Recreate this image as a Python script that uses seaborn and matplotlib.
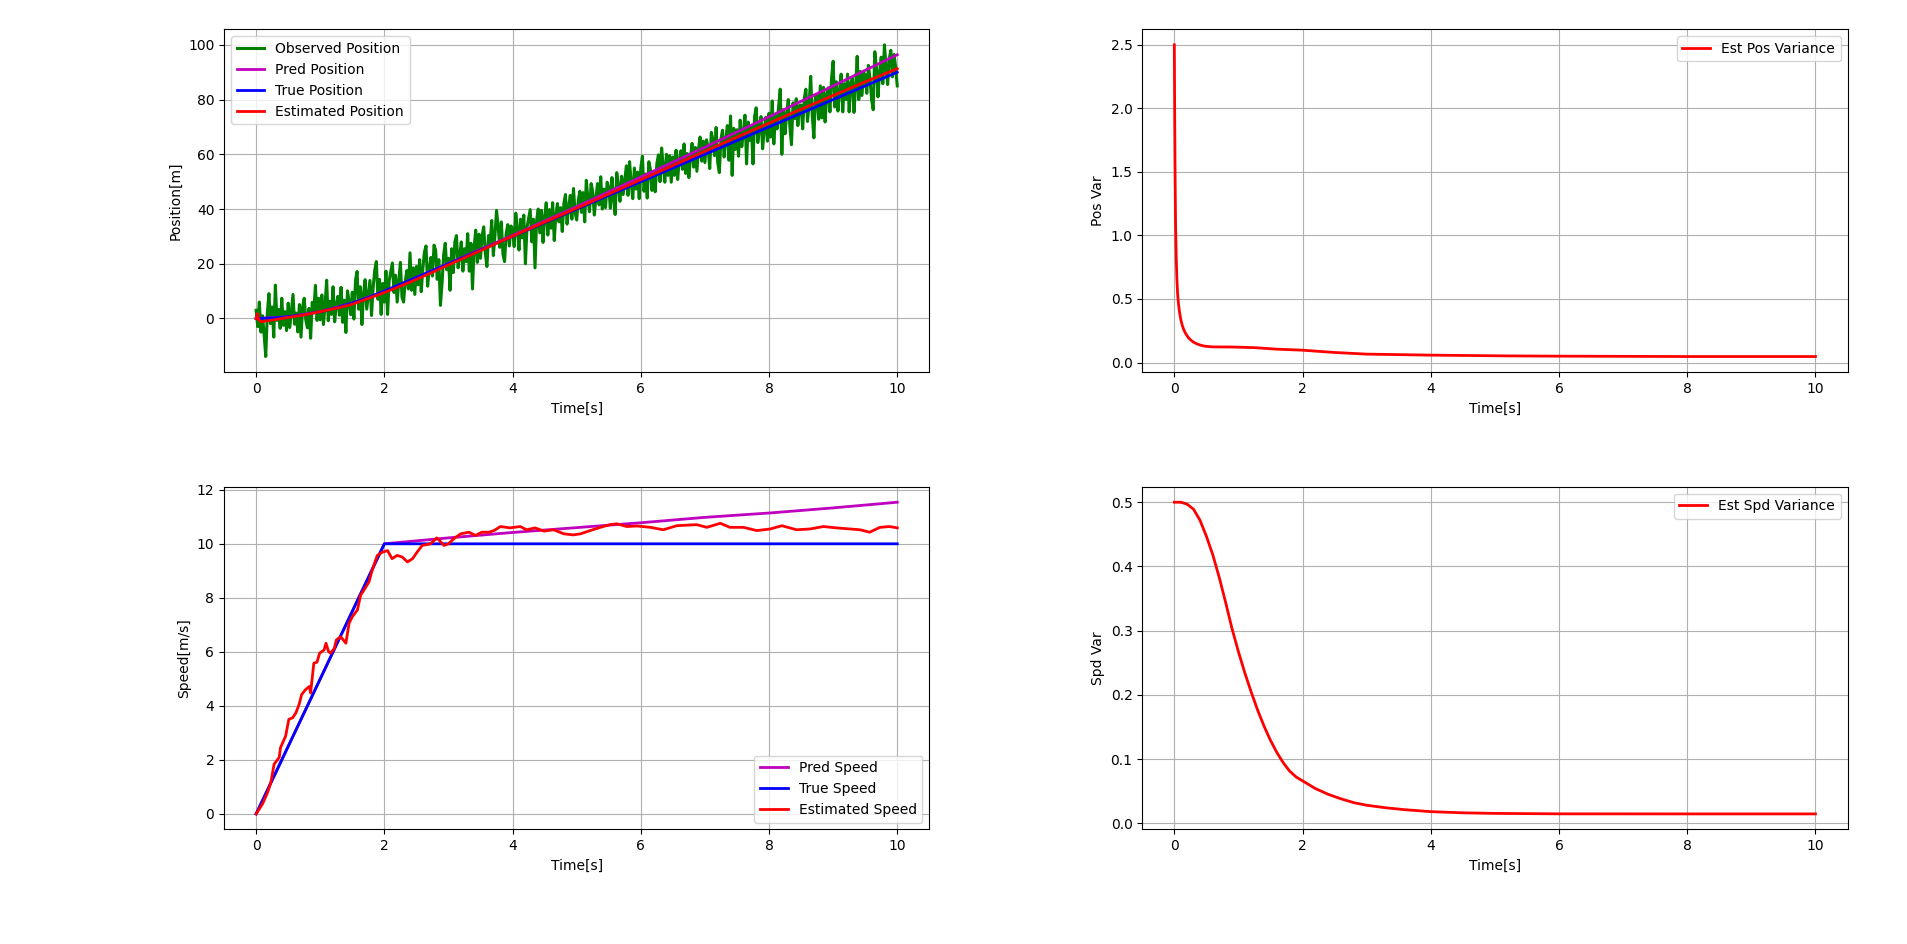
import numpy as np
import matplotlib
matplotlib.use("Agg")
import matplotlib.pyplot as plt
import seaborn as sns

# sample times of the noisy measurement (0.025 s step, 0..10 s)
t_obs = np.arange(401) * 0.025
obs_pos = [
    3.0, -3.0, 6.0, -5.0, 1.0, -6.0, -13.9, 2.1, 9.1, -1.9, 4.2, -6.8, 12.2, -0.7, 3.3, -3.6, 7.4, -2.5, 2.5, -4.4,
    5.6, -3.3, 2.8, 8.8, -2.1, 2.0, -4.9, 5.1, -6.8, 4.3, 7.4, -0.5, -3.4, 3.7, -7.2, 5.9, 3.0, 12.1, -0.7, 7.4,
    -0.5, 8.6, -2.2, 4.9, 14.0, -0.8, 6.3, 1.5, 11.6, -1.2, 4.9, 8.1, 1.2, 11.4, -1.4, 6.7, -5.1, 10.1, 6.3, 1.4,
    9.6, -0.2, 14.0, 17.2, 3.4, 11.6, -2.2, 9.0, 14.2, 3.4, 8.7, 13.9, 1.1, 11.3, 17.6, 20.8, 7.0, 14.3, 1.5, 12.8,
    6.0, 17.3, 1.5, 13.8, 17.0, 20.3, 9.5, 15.8, 6.0, 13.3, 20.5, 7.8, 6.0, 13.3, 17.5, 10.8, 24.0, 10.3, 18.5, 8.8,
    19.0, 12.3, 21.5, 9.8, 18.0, 24.3, 26.5, 11.8, 18.0, 22.3, 15.5, 26.8, 25.0, 14.3, 21.5, 4.8, 13.0, 23.3, 27.5, 17.8,
    22.0, 10.3, 25.5, 16.8, 28.0, 30.3, 18.5, 22.8, 28.0, 17.3, 25.5, 20.8, 31.0, 17.3, 27.5, 10.8, 26.0, 32.3, 20.5, 30.8,
    22.0, 30.3, 33.5, 23.8, 19.0, 30.3, 27.5, 35.8, 23.0, 30.3, 39.5, 33.8, 26.0, 35.3, 23.5, 20.8, 31.0, 34.3, 26.5, 33.8,
    33.0, 26.3, 38.5, 32.8, 25.0, 36.3, 29.5, 37.8, 20.0, 33.3, 36.5, 39.8, 28.0, 36.3, 18.5, 35.8, 40.0, 31.3, 39.5, 27.8,
    37.0, 42.3, 30.5, 39.8, 33.0, 42.3, 28.5, 37.8, 42.0, 35.3, 40.5, 31.8, 42.0, 45.3, 34.5, 40.8, 45.0, 36.3, 47.5, 38.8,
    36.0, 43.3, 46.5, 38.8, 46.0, 35.3, 50.5, 43.8, 39.0, 49.3, 46.5, 37.8, 44.0, 49.3, 41.5, 51.8, 40.0, 47.3, 40.5, 49.8,
    48.0, 40.3, 51.5, 43.8, 38.0, 53.3, 48.5, 42.8, 52.0, 45.3, 50.5, 55.8, 45.0, 57.3, 49.5, 43.8, 55.0, 47.3, 53.5, 43.8,
    55.0, 59.3, 46.5, 52.8, 44.0, 57.3, 54.5, 46.8, 53.0, 46.3, 56.5, 59.8, 50.0, 62.3, 55.5, 49.8, 60.0, 52.3, 59.5, 49.8,
    59.0, 52.3, 61.5, 50.8, 58.0, 61.3, 54.5, 63.8, 53.0, 60.3, 51.5, 58.8, 64.0, 55.3, 62.5, 53.8, 62.0, 66.3, 57.5, 64.8,
    57.0, 65.3, 62.5, 54.8, 68.0, 65.3, 59.5, 69.8, 57.0, 53.3, 65.5, 68.8, 59.0, 65.3, 70.5, 57.8, 74.0, 52.3, 69.5, 61.8,
    69.0, 59.3, 72.5, 62.8, 68.0, 74.3, 56.5, 71.8, 65.0, 70.3, 56.5, 73.8, 77.0, 64.3, 69.5, 73.8, 62.0, 69.3, 73.5, 64.8,
    75.0, 66.3, 79.5, 63.8, 74.0, 69.3, 77.5, 83.8, 60.0, 76.3, 67.5, 74.8, 80.0, 70.3, 63.5, 78.8, 73.0, 80.3, 70.5, 77.8,
    78.0, 69.3, 80.5, 83.8, 72.0, 78.3, 88.5, 73.8, 66.0, 81.3, 81.5, 72.8, 85.0, 73.3, 84.5, 71.8, 82.0, 84.3, 75.5, 87.8,
    94.0, 77.3, 86.5, 75.8, 83.0, 89.3, 75.5, 85.8, 80.0, 89.3, 75.5, 85.8, 88.0, 75.3, 84.5, 95.8, 80.0, 90.3, 81.5, 89.8,
    89.0, 82.3, 92.5, 87.8, 80.0, 76.3, 97.5, 91.8, 81.0, 90.3, 95.5, 85.8, 100.0, 92.3, 85.5, 94.8, 98.0, 88.3, 96.5, 91.8,
    85.0,
]

true_pos_t = [0, 0.25, 0.5, 0.75, 1.0, 1.25, 1.5, 1.75, 2.0, 10.0]
true_pos = [0, 0.16, 0.63, 1.41, 2.5, 3.91, 5.63, 7.66, 10.0, 90.0]

pred_pos_t = [0, 0.5, 1.0, 1.5, 2.0, 3.0, 4.0, 5.0, 6.0, 7.0, 8.0, 9.0, 10.0]
pred_pos = [0, 0.63, 2.5, 5.63, 10.0, 20.1, 30.4, 40.9, 51.7, 62.6, 73.7, 85.0, 96.4]

est_pos_t = [0, 0.02, 0.04, 0.08, 0.15, 0.25, 0.35, 0.5, 0.7, 0.9, 1.1, 1.3, 1.5, 1.7, 1.9,
             2.1, 2.3, 2.5, 2.75, 3.0, 3.5, 4.0, 4.5, 5.0, 5.5, 6.0, 6.5, 7.0, 7.5, 8.0,
             8.5, 9.0, 9.5, 10.0]
est_pos = [0.0, 1.8, -0.5, -1.2, -0.9, -0.6, -0.2, 0.4, 1.1, 2.0, 3.0, 4.0, 5.2, 6.9, 8.6,
           10.4, 12.3, 14.3, 16.9, 19.6, 24.8, 30.1, 35.2, 40.3, 45.5, 50.7, 55.9, 61.1, 66.3, 71.4,
           76.5, 81.5, 86.5, 91.3]

true_spd_t = [0, 2.0, 10.0]
true_spd = [0, 10.0, 10.0]

pred_spd_t = [0, 2.0, 3.0, 4.0, 5.0, 6.0, 7.0, 8.0, 9.0, 10.0]
pred_spd = [0, 10.0, 10.22, 10.42, 10.6, 10.78, 10.98, 11.14, 11.33, 11.54]

est_spd_t = [0, 0.1, 0.18, 0.23, 0.28, 0.36, 0.38, 0.46, 0.51, 0.57, 0.62, 0.67, 0.71, 0.77,
             0.83, 0.85, 0.9, 0.95, 0.99, 1.06, 1.09, 1.13, 1.16, 1.22, 1.25, 1.32, 1.4, 1.45,
             1.5, 1.58, 1.63, 1.68, 1.76, 1.81, 1.89, 1.97, 2.05, 2.12, 2.2, 2.28, 2.36, 2.44,
             2.51, 2.59, 2.72, 2.82, 2.93, 3.0, 3.08, 3.19, 3.32, 3.42, 3.52, 3.63, 3.71, 3.81,
             3.96, 4.12, 4.22, 4.35, 4.49, 4.64, 4.8, 4.95, 5.06, 5.21, 5.37, 5.52, 5.63, 5.78,
             5.94, 6.15, 6.35, 6.56, 6.87, 7.03, 7.24, 7.39, 7.6, 7.81, 8.02, 8.2, 8.43, 8.64,
             8.85, 9.05, 9.26, 9.42, 9.57, 9.73, 9.88, 10.0]
est_spd = [0, 0.37, 0.8, 1.17, 1.84, 2.09, 2.45, 2.88, 3.5, 3.56, 3.74, 4.05, 4.42, 4.6,
           4.72, 4.48, 5.58, 5.62, 5.95, 6.07, 6.32, 6.01, 5.95, 6.13, 6.44, 6.56, 6.32, 7.06,
           7.3, 7.55, 8.1, 8.28, 8.59, 9.02, 9.57, 9.69, 9.75, 9.45, 9.57, 9.51, 9.33, 9.45,
           9.69, 9.94, 10.0, 10.22, 9.94, 10.0, 10.18, 10.37, 10.43, 10.31, 10.43, 10.43, 10.49, 10.64,
           10.59, 10.64, 10.52, 10.59, 10.47, 10.52, 10.37, 10.33, 10.37, 10.49, 10.61, 10.71, 10.74, 10.64,
           10.66, 10.61, 10.52, 10.67, 10.71, 10.61, 10.76, 10.61, 10.61, 10.49, 10.55, 10.67, 10.52, 10.55,
           10.64, 10.59, 10.55, 10.52, 10.43, 10.61, 10.64, 10.59]

pos_var_t = [0, 0.005, 0.01, 0.015, 0.02, 0.03, 0.04, 0.05, 0.065, 0.08, 0.1, 0.125, 0.15,
             0.18, 0.22, 0.26, 0.3, 0.35, 0.4, 0.45, 0.5, 0.6, 0.9, 1.25, 1.6, 2.0, 2.5,
             3.0, 4.0, 5.2, 6.0, 8.0, 10.0]
pos_var = [2.5, 2.0, 1.6, 1.3, 1.07, 0.82, 0.66, 0.55, 0.46, 0.40, 0.34, 0.29, 0.255,
           0.225, 0.195, 0.175, 0.16, 0.147, 0.138, 0.131, 0.127, 0.123, 0.122, 0.117, 0.105, 0.097, 0.079,
           0.066, 0.058, 0.052, 0.05, 0.047, 0.047]

spd_var_t = [0, 0.1, 0.2, 0.3, 0.4, 0.5, 0.6, 0.7, 0.8, 0.9, 1.0, 1.1, 1.2, 1.3, 1.4, 1.5,
             1.6, 1.7, 1.8, 1.9, 2.0, 2.2, 2.4, 2.6, 2.8, 3.0, 3.3, 3.6, 4.0, 4.5, 5.0,
             6.0, 8.0, 10.0]
spd_var = [0.5, 0.5, 0.497, 0.489, 0.472, 0.447, 0.418, 0.383, 0.344, 0.303, 0.267, 0.234,
           0.204, 0.176, 0.151, 0.129, 0.110, 0.094, 0.081, 0.072, 0.066, 0.054, 0.045, 0.038,
           0.032, 0.028, 0.024, 0.021, 0.018, 0.0162, 0.0153, 0.0146, 0.0145, 0.0145]

fig, axes = plt.subplots(2, 2, figsize=(19.07, 9.44), dpi=100)
fig.subplots_adjust(left=0.1175, right=0.9688, bottom=0.1213, top=0.969, wspace=0.302, hspace=0.334)

ax = axes[0, 0]
sns.lineplot(x=t_obs, y=obs_pos, ax=ax, color='g', lw=2.2, label='Observed Position')
sns.lineplot(x=pred_pos_t, y=pred_pos, ax=ax, color='m', lw=2, label='Pred Position')
sns.lineplot(x=true_pos_t, y=true_pos, ax=ax, color='b', lw=2, label='True Position')
sns.lineplot(x=est_pos_t, y=est_pos, ax=ax, color='r', lw=2, label='Estimated Position')
ax.set_xlabel('Time[s]')
ax.set_ylabel('Position[m]')
ax.legend(loc='upper left')
ax.grid(True)

ax = axes[1, 0]
sns.lineplot(x=pred_spd_t, y=pred_spd, ax=ax, color='m', lw=2, label='Pred Speed')
sns.lineplot(x=true_spd_t, y=true_spd, ax=ax, color='b', lw=2, label='True Speed')
sns.lineplot(x=est_spd_t, y=est_spd, ax=ax, color='r', lw=2, label='Estimated Speed')
ax.set_xlabel('Time[s]')
ax.set_ylabel('Speed[m/s]')
ax.legend(loc='lower right')
ax.grid(True)

ax = axes[0, 1]
sns.lineplot(x=pos_var_t, y=pos_var, ax=ax, color='r', lw=2, label='Est Pos Variance')
ax.set_xlabel('Time[s]')
ax.set_ylabel('Pos Var')
ax.legend(loc='upper right')
ax.grid(True)

ax = axes[1, 1]
sns.lineplot(x=spd_var_t, y=spd_var, ax=ax, color='r', lw=2, label='Est Spd Variance')
ax.set_xlabel('Time[s]')
ax.set_ylabel('Spd Var')
ax.legend(loc='upper right')
ax.grid(True)

fig.savefig('out.png', dpi=100)
